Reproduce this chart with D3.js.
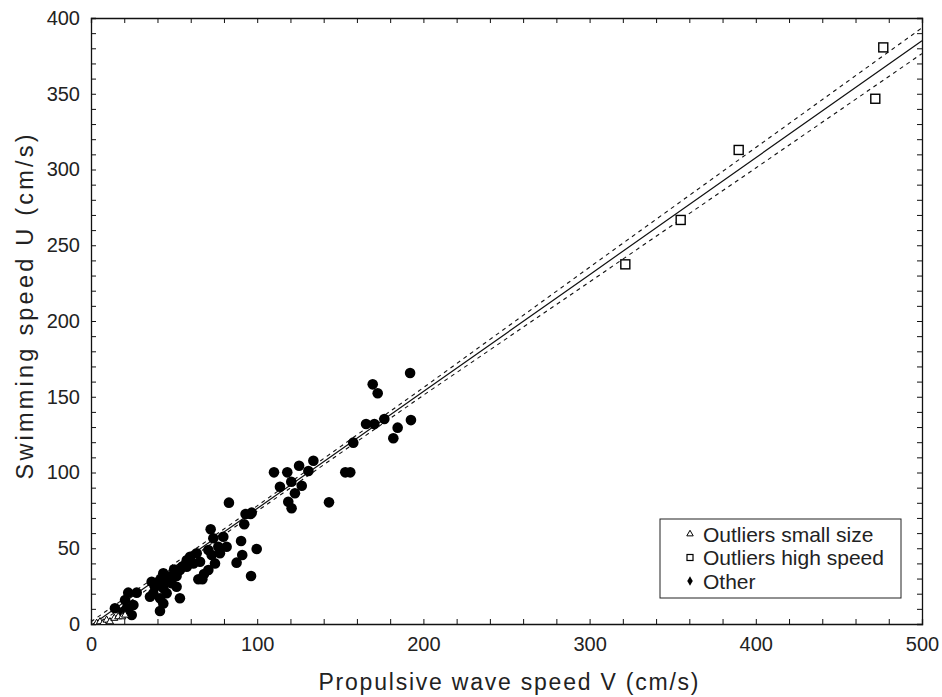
<!DOCTYPE html>
<html>
<head>
<meta charset="utf-8">
<script src="https://cdn.jsdelivr.net/npm/d3@7"></script>
<style>
  body { margin: 0; background: #fff; }
  svg { font-family: "Liberation Sans", Arial, sans-serif; }
</style>
</head>
<body>
<div id="chart"></div>
<script>

/* ---- data ---- */

// small size outliers (triangles)
let smallX = [3.4, 5.4, 7.4, 9.4, 11.4, 14, 16.4, 18.8, 20.5]
let smallU = [0.5, 1.5, 0.7, 2.6, 1.5, 3.8, 4.8, 4.8, 5.9]

// high speed outliers (squares)
let highX = [321.5, 354.8, 389.7, 471.9, 476.7]
let highU = [237.4, 266.7, 312.9, 346.7, 380.6]

// other (filled dots)
let otherX = [14.4, 19.4, 20.5, 21.5, 22.4, 24.5, 25.5, 27.5, 35.5, 36.5, 37.5, 38.5, 41.5, 41.5, 41.5,
  43.5, 43.5, 43.5, 45.5, 47.5, 48.5, 51.5, 51.5, 53.5, 53.5, 57.6, 57.6, 59.6, 61.6, 63.6,
  64.6, 67, 65.6, 70.6, 70.6, 72.6, 73.6, 74.6, 76.6, 77.6, 79.6, 81.6, 72, 83, 87.6, 90.3,
  91, 92.2, 93, 96, 96.3, 96.7, 99.7, 110.1, 113.7, 118.1, 118.7, 120.7, 120.5, 122.7, 125.2,
  126.8, 130.8, 133.8, 143.2, 153, 156, 157.8, 165.5, 169.5, 170.5, 172.5, 176.5, 181.9,
  184.5, 192, 192.5, 45, 55, 68, 50]
let otherU = [10.4, 8.1, 15.8, 10.4, 20.7, 5.9, 12.5, 20.7, 18, 27.9, 20.3, 24.6, 29, 17, 8.6,
  33.5, 23.6, 13.6, 20.3, 31.2, 26.9, 31.7, 24.6, 35.6, 17, 37.8, 42, 44.4, 40, 46.7,
  29.5, 29.5, 41.1, 48.8, 35.6, 45.5, 56.6, 40, 51, 46.7, 57.6, 51, 62.5, 80.1, 40.5, 54.8,
  45.5, 65.8, 72.6, 72.6, 31.7, 73.5, 49.5, 100.1, 90.6, 100.1, 80.7, 76.4, 93.9, 86.3, 104.5,
  91.3, 101, 107.8, 80.3, 100.1, 100.1, 119.7, 132, 158.2, 132, 152.3, 135.3, 122.6,
  129.6, 165.7, 134.6, 28, 38, 33, 36]

// regression line and confidence band
let fitX = [0, 100, 200, 300, 400, 500]
let fitU = [-1, 76.2, 153.4, 230.6, 307.8, 385]
let bandHi = [1.5, 78, 156, 235.5, 314.5, 393.5]
let bandLo = [-3.5, 74.5, 151, 225.8, 301, 376.5]

let xTicks = [0, 100, 200, 300, 400, 500]
let yTicks = [0, 50, 100, 150, 200, 250, 300, 350, 400]

let legendLabels = ["Outliers small size", "Outliers high speed", "Other"]

/* ---- layout ---- */

let w = 942
let h = 697
let margin = { top: 18, right: 20, bottom: 73, left: 91 }
let iw = w - margin.left - margin.right
let ih = h - margin.top - margin.bottom

let svg = d3.select("#chart").append("svg")
    .attr("width", w)
    .attr("height", h)

let x = d3.scaleLinear().domain([0, 500]).range([0, iw])
let y = d3.scaleLinear().domain([0, 400]).range([ih, 0])

let g = svg.append("g").attr("transform", "translate(" + margin.left + "," + margin.top + ")")

svg.append("defs").append("clipPath").attr("id", "clip")
    .append("rect").attr("width", iw).attr("height", ih)

/* axes: major ticks labelled, minor ticks inside, mirrored top/right */
let minorX = d3.range(0, 501, 20)
let minorY = d3.range(0, 401, 10)

g.append("g").attr("transform", "translate(0," + ih + ")")
    .call(d3.axisBottom(x).tickValues(minorX).tickSize(-5).tickFormat(""))
g.append("g").call(d3.axisTop(x).tickValues(minorX).tickSize(-5).tickFormat(""))
g.append("g").call(d3.axisLeft(y).tickValues(minorY).tickSize(-5).tickFormat(""))
g.append("g").attr("transform", "translate(" + iw + ",0)")
    .call(d3.axisRight(y).tickValues(minorY).tickSize(-5).tickFormat(""))

g.selectAll(".domain").attr("stroke", "#111").attr("stroke-width", 1.3)
g.selectAll(".tick line").attr("stroke", "#111")

let xLab = g.append("g").attr("transform", "translate(0," + ih + ")")
    .call(d3.axisBottom(x).tickValues(xTicks).tickSize(0).tickPadding(13))
let yLab = g.append("g")
    .call(d3.axisLeft(y).tickValues(yTicks).tickSize(0).tickPadding(11))
xLab.select(".domain").remove()
yLab.select(".domain").remove()
g.selectAll(".tick text").attr("font-size", 20).attr("fill", "#222")
    .attr("font-family", "Liberation Sans, Arial, sans-serif")

/* axis titles (wide face in the original: stretch spacing to its width) */
svg.append("text")
    .attr("x", margin.left + iw / 2 + 2)
    .attr("y", 690)
    .attr("text-anchor", "middle")
    .attr("font-size", 23)
    .attr("textLength", 380)
    .attr("lengthAdjust", "spacing")
    .attr("fill", "#222")
    .text("Propulsive wave speed V (cm/s)")

svg.append("text")
    .attr("transform", "translate(33,307) rotate(-90)")
    .attr("text-anchor", "middle")
    .attr("font-size", 23.5)
    .attr("textLength", 345)
    .attr("lengthAdjust", "spacing")
    .attr("fill", "#222")
    .text("Swimming speed U (cm/s)")

/* fit line and confidence band */
let plot = g.append("g").attr("clip-path", "url(#clip)")

let line = function (ys) {
  return d3.line()
      .x(function (d, i) { return x(fitX[i]) })
      .y(function (d) { return y(d) })(ys)
}

plot.append("path").attr("d", line(fitU))
    .attr("fill", "none").attr("stroke", "#111").attr("stroke-width", 1.2)
plot.append("path").attr("d", line(bandHi))
    .attr("fill", "none").attr("stroke", "#111").attr("stroke-width", 1.1)
    .attr("stroke-dasharray", "4,4")
plot.append("path").attr("d", line(bandLo))
    .attr("fill", "none").attr("stroke", "#111").attr("stroke-width", 1.1)
    .attr("stroke-dasharray", "4,4")

/* points */
plot.selectAll(".other").data(otherX).enter().append("circle")
    .attr("class", "other")
    .attr("cx", function (d) { return x(d) })
    .attr("cy", function (d, i) { return y(otherU[i]) })
    .attr("r", 5.3)
    .attr("fill", "#000")

let tri = d3.symbol().type(d3.symbolTriangle).size(22)
plot.selectAll(".small").data(smallX).enter().append("path")
    .attr("class", "small")
    .attr("d", tri)
    .attr("transform", function (d, i) { return "translate(" + x(d) + "," + y(smallU[i]) + ")" })
    .attr("fill", "#fff").attr("stroke", "#000").attr("stroke-width", 1)

g.selectAll(".high").data(highX).enter().append("rect")
    .attr("class", "high")
    .attr("x", function (d) { return x(d) - 4.5 })
    .attr("y", function (d, i) { return y(highU[i]) - 4.5 })
    .attr("width", 9).attr("height", 9)
    .attr("fill", "#fff").attr("stroke", "#000").attr("stroke-width", 1.4)

/* legend */
let lg = svg.append("g").attr("transform", "translate(660,519)")
lg.append("rect").attr("width", 241).attr("height", 79)
    .attr("fill", "#fff").attr("stroke", "#222").attr("stroke-width", 1)

let rowY = function (i) { return 15 + i * 23.5 }
lg.selectAll(".ltxt").data(legendLabels).enter().append("text")
    .attr("class", "ltxt")
    .attr("x", 43)
    .attr("y", function (d, i) { return rowY(i) + 7.5 })
    .attr("font-size", 21)
    .attr("fill", "#222")
    .text(function (d) { return d })

lg.append("path").attr("d", d3.symbol().type(d3.symbolTriangle).size(18)())
    .attr("transform", "translate(30," + rowY(0) + ")")
    .attr("fill", "#fff").attr("stroke", "#000")
lg.append("rect").attr("x", 27).attr("y", rowY(1) - 3).attr("width", 6).attr("height", 6)
    .attr("fill", "#fff").attr("stroke", "#000").attr("stroke-width", 1.2)
lg.append("path").attr("d", d3.symbol().type(d3.symbolDiamond).size(26)())
    .attr("transform", "translate(30," + rowY(2) + ")")
    .attr("fill", "#000")

</script>
</body>
</html>
